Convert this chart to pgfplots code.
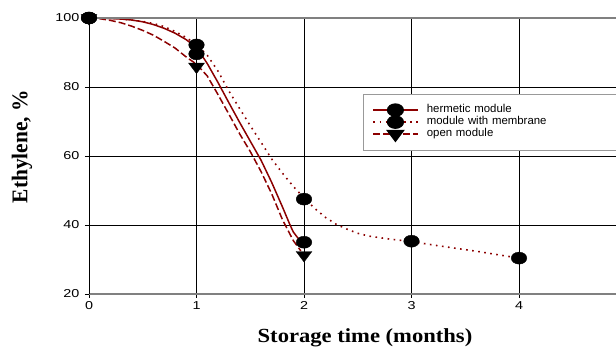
\documentclass[border=0pt]{standalone}
\usepackage{fontspec}
\usepackage{graphicx}
\setmainfont{Liberation Serif}
\newfontfamily\tickfont{Liberation Sans}[FakeStretch=1.25]
\newfontfamily\legfont{Liberation Sans}
\usepackage{pgfplots}
\pgfplotsset{compat=1.18}
\definecolor{dred}{RGB}{140,0,0}
\begin{document}
\begin{tikzpicture}
\begin{axis}[
  name=ax,
  scale only axis, width=527pt, height=276pt,
  xmin=0, xmax=4.902, ymin=20, ymax=100,
  xtick={0,1,2,3,4}, ytick={20,40,60,80,100},
  axis lines*=left,
  axis line style={-},
  x axis line style={draw=gray, line width=1.8pt},
  y axis line style={draw=black, line width=0.8pt},
  grid=major, grid style={black, line width=0.7pt},
  tick align=outside, major tick length=4pt,
  tick style={black, line width=0.7pt},
  /pgf/number format/assume math mode=true,
  ticklabel style={font=\tickfont\fontsize{11.5}{12}\selectfont},
  yticklabel style={xshift=-2pt},
  xlabel={\scalebox{1.13}[1]{Storage time (months)}},
  ylabel={\scalebox{1}[1.05]{Ethylene, \%}},
  every axis x label/.style={at={(rel axis cs:0.5237,-0.1576)}, anchor=center, font=\bfseries\fontsize{20}{22}\selectfont},
  every axis y label/.style={at={(rel axis cs:-0.127,0.534)}, rotate=90, anchor=center, font=\bfseries\fontsize{21.4}{23}\selectfont},
  legend image code/.code={\draw[mark repeat=2, mark phase=2, #1] plot coordinates {(0pt,0pt) (22pt,0pt) (45pt,0pt)};},
  legend style={at={(axis cs:2.549,77.97)}, anchor=north west, draw=gray!80, line width=1.2pt,
    font=\legfont\fontsize{11.4}{11.4}\selectfont, inner xsep=9pt, inner ysep=9.5pt,
    nodes={inner sep=0.6pt, text height=8pt, text depth=2.8pt, text width=200pt, align=left},
    /tikz/every odd column/.append style={column sep=7pt},
    row sep=0pt},
  legend cell align=left,
  clip=false,
]
% legend images
\addlegendimage{dred, line width=1.5pt, mark=*, mark size=6pt, mark options={solid, fill=black, draw=black, xscale=1.3}}
\addlegendentry{hermetic module}
\addlegendimage{dred, line width=1.6pt, dash pattern=on 1.6pt off 4.5pt, mark=*, mark size=6pt, mark options={solid, fill=black, draw=black, xscale=1.3}}
\addlegendentry{module with membrane}
\addlegendimage{dred, line width=1.5pt, dash pattern=on 7pt off 3pt, mark=triangle*, mark size=7pt, mark options={solid, fill=black, draw=black, rotate=180, xscale=1.3}}
\addlegendentry{open module}

% fitted curves
\addplot[forget plot, dred, line width=1.5pt] coordinates {
 (0,100) (0.1,99.95) (0.2,99.85) (0.3,99.7) (0.4,99.4) (0.5,98.9) (0.6,98.1) (0.7,97.0) (0.8,95.6) (0.9,93.8)
 (1.0,91.5) (1.1,86.8) (1.2,81.3) (1.3,75.5) (1.4,69.8) (1.5,64.3) (1.6,58.8) (1.7,52.3) (1.8,45.2) (1.87,40) (1.9,38) (1.98,34.7)};
\addplot[forget plot, dred, line width=1.6pt, dash pattern=on 1.6pt off 4.5pt] coordinates {
 (0,100) (0.1,99.98) (0.2,99.9) (0.3,99.7) (0.4,99.4) (0.5,99) (0.6,98.4) (0.7,97.5) (0.8,96.1) (0.9,94.4)
 (1.0,92.3) (1.1,89.2) (1.2,84.6) (1.3,78.9) (1.4,73.8) (1.5,68.8) (1.6,64) (1.7,59.1) (1.8,55) (1.9,51.2)
 (2.0,47.8) (2.1,44.8) (2.2,42.2) (2.3,40.2) (2.4,38.8) (2.5,37.6) (2.6,36.8) (2.8,35.9) (3.0,35.2)
 (3.2,34.2) (3.4,33.3) (3.6,32.4) (3.8,31.4) (4.0,30.4)};
\addplot[forget plot, dred, line width=1.5pt, dash pattern=on 7pt off 3pt] coordinates {
 (0,100) (0.1,99.8) (0.2,99.3) (0.3,98.6) (0.4,97.6) (0.5,96.4) (0.6,95.0) (0.7,93.2) (0.8,91.3) (0.9,88.8)
 (1.0,86.6) (1.1,83.2) (1.2,77.8) (1.3,72.2) (1.4,66.5) (1.5,61.3) (1.6,55.5) (1.7,49) (1.8,41.5) (1.9,35.5) (1.97,32.5)};

% data markers
\addplot[forget plot, only marks, black, mark=triangle*, mark size=7pt, mark options={fill=black, draw=black, rotate=180, xscale=1.3},
  error bars/.cd, y dir=both, y explicit, error mark=none, error bar style={black, line width=0.8pt}] coordinates {
 (0,100) +- (0,0) (1,85.9) +- (0,0) (2,31.3) +- (0,5.8)};
\addplot[forget plot, only marks, black, mark=*, mark size=6pt, mark options={fill=black, draw=black, xscale=1.3}] coordinates {
 (0,100) (1,89.6) (2,35)};
\addplot[forget plot, only marks, black, mark=*, mark size=6pt, mark options={fill=black, draw=black, xscale=1.3}] coordinates {
 (0,100) (1,92.2) (2,47.5) (3,35.3) (4,30.4)};
\draw[gray, line width=1.5pt] (rel axis cs:0,1) -- (rel axis cs:1,1);
\end{axis}
\pgfresetboundingbox
\path ([xshift=-89pt,yshift=-54pt]ax.south west) rectangle ([yshift=18pt]ax.north east);
\end{tikzpicture}
\end{document}
